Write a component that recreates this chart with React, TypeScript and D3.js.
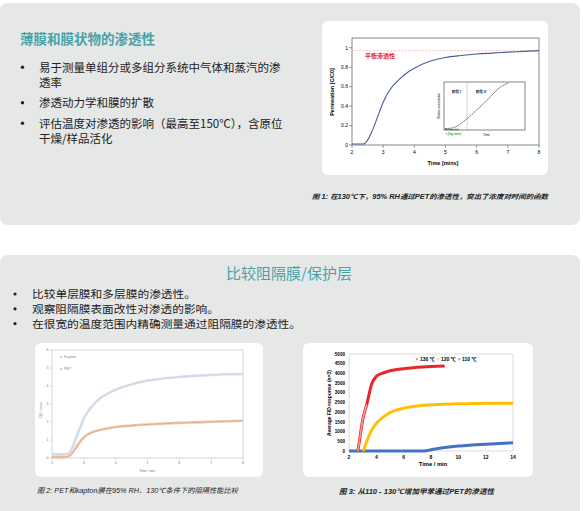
import React from "react";
import * as d3 from "d3";

// ---------- data ----------
const permTime = [2, 2.2, 2.4, 2.5, 2.6, 2.8, 3.0, 3.2, 3.5, 3.8, 4.0, 4.5, 5.0, 5.5, 6.0, 6.5, 7.0, 7.5, 8.0];
const permValue = [0.01, 0.01, 0.012, 0.05, 0.11, 0.27, 0.44, 0.56, 0.67, 0.75, 0.79, 0.86, 0.9, 0.92, 0.935, 0.945, 0.955, 0.962, 0.97];
const equilibrium = 0.97;
const permXTicks = [2, 3, 4, 5, 6, 7, 8];
const permYTicks = [0, 0.2, 0.4, 0.6, 0.8, 1];

const insetT = [0, 0.08, 0.15, 0.2, 0.3, 0.4, 0.5, 0.6, 0.7, 0.79];
const insetC = [0.01, 0.02, 0.06, 0.12, 0.26, 0.42, 0.58, 0.76, 0.92, 1.0];

const cmpTime = [2, 2.3, 2.5, 2.6, 2.8, 3.0, 3.2, 3.5, 3.8, 4.0, 4.5, 5.0, 5.5, 6, 6.5, 7, 7.5, 8];
const kaptonVals = [0.2, 0.2, 0.22, 0.45, 1.3, 2.2, 2.75, 3.3, 3.62, 3.8, 4.1, 4.3, 4.42, 4.5, 4.56, 4.61, 4.65, 4.67];
const petVals = [0.05, 0.05, 0.08, 0.2, 0.7, 1.15, 1.38, 1.55, 1.66, 1.72, 1.8, 1.86, 1.91, 1.95, 1.98, 2.01, 2.04, 2.07];
const cmpXTicks = [2, 3, 4, 5, 6, 7, 8];
const cmpYTicks = [0, 1, 2, 3, 4, 5, 6];

const time130 = [2.65, 2.8, 3.0, 3.3, 3.66, 4.0, 4.5, 5, 5.5, 6, 7, 8, 9];
const resp130 = [0, 700, 1600, 2400, 3450, 3850, 4020, 4140, 4200, 4240, 4320, 4360, 4380];
const time120 = [3.05, 3.3, 3.6, 4, 4.5, 5, 5.5, 6, 7, 8, 9, 10, 11, 12, 13, 14];
const resp120 = [0, 500, 1000, 1420, 1750, 1980, 2120, 2210, 2320, 2380, 2410, 2430, 2445, 2455, 2462, 2465];
const time110 = [2, 4, 6, 7.5, 8, 9, 10, 11, 12, 13, 14];
const resp110 = [0, 0, 0, 5, 60, 180, 260, 310, 350, 390, 420];
const fidXTicks = [2, 4, 6, 8, 10, 12, 14];
const fidYTicks = [0, 500, 1000, 1500, 2000, 2500, 3000, 3500, 4000, 4500, 5000];
const fidLegend = ["130 ℃", "120 ℃", "110 ℃"];

const topBullets = [
  ["易于测量单组分或多组分系统中气体和蒸汽的渗", "透率"],
  ["渗透动力学和膜的扩散"],
  ["评估温度对渗透的影响（最高至150℃），含原位", "干燥/样品活化"],
];
const bottomBullets = [
  "比较单层膜和多层膜的渗透性。",
  "观察阻隔膜表面改性对渗透的影响。",
  "在很宽的温度范围内精确测量通过阻隔膜的渗透性。",
];

const CJK = "'Noto Sans CJK SC', 'Noto Sans', sans-serif";
const SANS = "'Liberation Sans', Arial, 'Noto Sans CJK SC', sans-serif";
const TEAL = "#48a2a8";
const PANEL = "#e6e7e7";

function lineOf(xs: number[], ys: number[], x: any, y: any) {
  const pts = xs.map((t, i) => [t, ys[i]] as [number, number]);
  return d3.line<[number, number]>().x((d) => x(d[0])).y((d) => y(d[1])).curve(d3.curveMonotoneX)(pts) || "";
}

function PermChart() {
  const x = d3.scaleLinear().domain([2, 8]).range([352, 539]);
  const y = d3.scaleLinear().domain([0, 1.1]).range([145, 38]);
  const ix = d3.scaleLinear().domain([0, 1]).range([445, 525]);
  const iy = d3.scaleLinear().domain([0, 1]).range([129, 83]);
  return (
    <g>
      <rect x={322} y={21} width={226} height={154} rx={6} fill="#fff" />
      <rect x={352} y={38} width={187} height={107} fill="none" stroke="#555" strokeWidth={0.7} />
      <line x1={352} x2={539} y1={y(equilibrium)} y2={y(equilibrium)} stroke="#e99" strokeWidth={0.6} strokeDasharray="2,1.5" />
      <text x={365} y={57.5} fontSize={6} fill="#e41e26" fontFamily={CJK} fontWeight="bold">平衡渗透性</text>
      {permYTicks.map((t) => (
        <g key={t}>
          <line x1={349} x2={352} y1={y(t)} y2={y(t)} stroke="#555" strokeWidth={0.6} />
          <text x={348} y={y(t) + 1.8} fontSize={5} textAnchor="end" fontFamily={SANS}>{t === 0 ? "0" : t.toString()}</text>
        </g>
      ))}
      {permXTicks.map((t) => (
        <g key={t}>
          <line x1={x(t)} x2={x(t)} y1={145} y2={148} stroke="#555" strokeWidth={0.6} />
          <text x={x(t)} y={153.5} fontSize={5} textAnchor="middle" fontFamily={SANS}>{t}</text>
        </g>
      ))}
      <text x={443} y={165} fontSize={5.5} fontWeight="bold" textAnchor="middle" fontFamily={SANS}>Time [mins]</text>
      <text transform="translate(334,92) rotate(-90)" fontSize={5.5} fontWeight="bold" textAnchor="middle" fontFamily={SANS}>Permeation [C/C0]</text>
      <path d={lineOf(permTime, permValue, x, y)} fill="none" stroke="#4a5aa0" strokeWidth={1.1} />
      {/* inset */}
      <rect x={444} y={82} width={81} height={48} fill="#fff" stroke="#333" strokeWidth={0.6} />
      <line x1={467} x2={467} y1={82} y2={130} stroke="#999" strokeWidth={0.4} />
      <line x1={445} x2={459} y1={129.5} y2={129.5} stroke="#1aa84a" strokeWidth={1.2} />
      <path d={lineOf(insetT, insetC, ix, iy)} fill="none" stroke="#333" strokeWidth={0.7} strokeDasharray="2,0.6" />
      <text x={452} y={93} fontSize={3.5} fontWeight="bold" fontFamily={CJK}>阶段 I</text>
      <text x={476} y={93} fontSize={3.5} fontWeight="bold" fontFamily={CJK}>阶段 II</text>
      <text x={446} y={135} fontSize={3} fill="#1aa84a" fontWeight="bold" fontFamily={SANS}>t (lag time)</text>
      <text x={483} y={136} fontSize={3} fontFamily={SANS}>Time</text>
      <text transform="translate(440,106) rotate(-90)" fontSize={2.6} textAnchor="middle" fontFamily={SANS}>Relative concentration</text>
    </g>
  );
}

function CompareChart() {
  const x = d3.scaleLinear().domain([2, 8]).range([52, 243]);
  const y = d3.scaleLinear().domain([0, 6]).range([458, 350]);
  return (
    <g>
      <rect x={35} y={343} width={228} height={134} rx={6} fill="#fff" />
      <rect x={52} y={350} width={191} height={108} fill="none" stroke="#aaa" strokeWidth={0.5} />
      {cmpYTicks.map((t) => (
        <g key={t}>
          <line x1={50} x2={52} y1={y(t)} y2={y(t)} stroke="#aaa" strokeWidth={0.4} />
          <text x={48.5} y={y(t) + 1.3} fontSize={3.5} fill="#777" textAnchor="end" fontFamily={SANS}>{t}</text>
        </g>
      ))}
      {cmpXTicks.map((t) => (
        <g key={t}>
          <line x1={x(t)} x2={x(t)} y1={458} y2={460} stroke="#aaa" strokeWidth={0.4} />
          <text x={x(t)} y={464} fontSize={3.5} fill="#777" textAnchor="middle" fontFamily={SANS}>{t}</text>
        </g>
      ))}
      <text x={147} y={472} fontSize={3.5} fill="#777" textAnchor="middle" fontFamily={SANS}>Time / min</text>
      <text transform="translate(42,410) rotate(-90)" fontSize={3.5} fill="#777" textAnchor="middle" fontFamily={SANS}>C(t) / conc.</text>
      <path d={lineOf(cmpTime, kaptonVals, x, y)} fill="none" stroke="#d8e0ec" strokeWidth={2.6} />
      <path d={lineOf(cmpTime, kaptonVals, x, y)} fill="none" stroke="#bfcadf" strokeWidth={1} strokeDasharray="0.8,1.4" />
      <path d={lineOf(cmpTime, petVals, x, y)} fill="none" stroke="#f0c8a8" strokeWidth={2.6} />
      <path d={lineOf(cmpTime, petVals, x, y)} fill="none" stroke="#c08a60" strokeWidth={1} strokeDasharray="0.8,1.4" />
      <circle cx={61} cy={357} r={1.3} fill="#d3dcea" />
      <text x={64} y={358.3} fontSize={3.8} fill="#888" fontFamily={SANS}>Kapton</text>
      <circle cx={61} cy={369} r={1.3} fill="#f0c8a8" />
      <text x={64} y={370.3} fontSize={3.8} fill="#888" fontFamily={SANS}>PET</text>
    </g>
  );
}

function FidChart() {
  const x = d3.scaleLinear().domain([2, 14]).range([349, 513]);
  const y = d3.scaleLinear().domain([0, 5000]).range([451, 354]);
  const colors = ["#e8262b", "#ffc000", "#4472c4"];
  const legendX = [417, 438, 459];
  return (
    <g>
      <rect x={303} y={343} width={230} height={134} rx={6} fill="#fff" />
      <rect x={349} y={354} width={164} height={97} fill="none" stroke="#bbb" strokeWidth={0.5} />
      {fidYTicks.map((t) => (
        <text key={t} x={345} y={y(t) + 1.6} fontSize={4.6} fontWeight="bold" textAnchor="end" fontFamily={SANS}>{t}</text>
      ))}
      {fidXTicks.map((t) => (
        <text key={t} x={x(t)} y={458.5} fontSize={5} fontWeight="bold" textAnchor="middle" fontFamily={SANS}>{t}</text>
      ))}
      <text x={433} y={466} fontSize={5.8} fontWeight="bold" textAnchor="middle" fontFamily={SANS}>Time / min</text>
      <text transform="translate(331,403) rotate(-90)" fontSize={5} fontWeight="bold" textAnchor="middle" fontFamily={SANS}>Average FID response (n=3)</text>
      <path d={lineOf(time110, resp110, x, y)} fill="none" stroke={colors[2]} strokeWidth={3} />
      <path d={lineOf(time120, resp120, x, y)} fill="none" stroke={colors[1]} strokeWidth={3} />
      <path d={lineOf(time130, resp130, x, y)} fill="none" stroke={colors[0]} strokeWidth={3} />
      <path d={lineOf(time130.slice(0, 4), resp130.slice(0, 4), x, y)} fill="none" stroke="#f29aa0" strokeWidth={1.6} />
      {fidLegend.map((l, i) => (
        <g key={l}>
          <text x={legendX[i]} y={361} fontSize={5} fill={colors[i]} fontFamily={SANS} textAnchor="middle">×</text>
          <text x={legendX[i] + 3} y={361} fontSize={5} fontWeight="bold" fontFamily={SANS}>{l}</text>
        </g>
      ))}
    </g>
  );
}

export default function App() {
  const bottomWidths = [164, 187, 269];
  return (
    <div style={{ position: "absolute", left: 0, top: 0, width: 583, height: 511 }}>
      <svg width={583} height={511} viewBox="0 0 583 511" style={{ display: "block" }}>
        <rect x={0} y={0} width={583} height={511} fill="#fff" />
        <rect x={0} y={3} width={580} height={222} rx={8} fill={PANEL} />
        <rect x={0} y={255} width={580} height={270} rx={8} fill={PANEL} />

        <text x={20} y={43.5} fontSize={13.5} fontWeight="bold" fill={TEAL} fontFamily={CJK}>薄膜和膜状物的渗透性</text>
        {(() => {
          const baselines = [[71.5, 86.5], [107], [127.5, 142.5]];
          return topBullets.map((lines, i) => (
            <g key={i}>
              <circle cx={22.5} cy={baselines[i][0] - 4.2} r={1.7} fill="#222" />
              {lines.map((ln, j) => (
                <text key={j} x={39} y={baselines[i][j]} fontSize={11.5} fill="#222" fontFamily={CJK}>{ln}</text>
              ))}
            </g>
          ));
        })()}

        <PermChart />
        <text x={312} y={198.5} fontSize={6.6} fontStyle="italic" fontWeight="bold" fill="#222" fontFamily={SANS} textLength={236} lengthAdjust="spacingAndGlyphs">图 1: 在130℃下，95% RH通过PET的渗透性，突出了浓度对时间的函数</text>

        <text x={289} y={278.5} fontSize={15} fill={TEAL} textAnchor="middle" fontFamily={CJK}>比较阻隔膜/保护层</text>
        {bottomBullets.map((b, i) => (
          <g key={i}>
            <circle cx={15} cy={294 + i * 14.8} r={1.6} fill="#222" />
            <text x={32} y={298 + i * 14.8} fontSize={10.3} fill="#222" fontFamily={CJK} textLength={bottomWidths[i]} lengthAdjust="spacingAndGlyphs">{b}</text>
          </g>
        ))}

        <CompareChart />
        <FidChart />
        <text x={37} y={492.5} fontSize={7} fontStyle="italic" fill="#222" fontFamily={SANS} textLength={201} lengthAdjust="spacingAndGlyphs">图 2: PET和kapton膜在95% RH、130℃条件下的阻隔性能比较</text>
        <text x={339} y={494} fontSize={7} fontStyle="italic" fontWeight="bold" fill="#222" fontFamily={SANS} textLength={155} lengthAdjust="spacingAndGlyphs">图 3: 从110 - 130℃增加甲苯通过PET的渗透性</text>
      </svg>
    </div>
  );
}
